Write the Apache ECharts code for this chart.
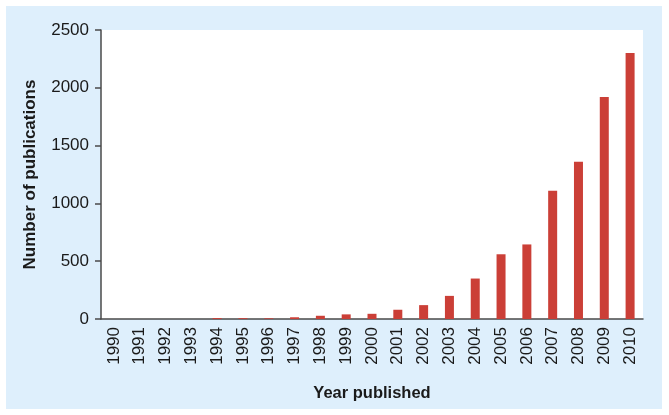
<!DOCTYPE html>
<html>
<head>
<meta charset="utf-8">
<script src="https://cdn.jsdelivr.net/npm/echarts@6/dist/echarts.min.js"></script>
<style>
  html, body { margin: 0; padding: 0; background: #ffffff; }
  #main { position: absolute; left: 6px; top: 6px; width: 656px; height: 403px; }
</style>
</head>
<body>
<div id="main"></div>
<script>
// 年份
const years = ['1990', '1991', '1992', '1993', '1994', '1995', '1996', '1997', '1998', '1999', '2000',
  '2001', '2002', '2003', '2004', '2005', '2006', '2007', '2008', '2009', '2010'];
// 发表数量
const publications = [0, 0, 0, 0, 8, 7, 6, 15, 28, 40, 45,
  80, 120, 200, 350, 560, 645, 1110, 1360, 1920, 2300];
const yTicks = [0, 500, 1000, 1500, 2000, 2500];

let chart = echarts.init(document.getElementById('main'));

const font = 'Liberation Sans, Arial, Helvetica, sans-serif';
const axisColor = '#4a4a4a';

let option = {
  backgroundColor: '#deeffc',
  animation: false,
  grid: {
    left: 95,
    right: 19,
    top: 24,
    bottom: 90,
    show: true,
    backgroundColor: '#ffffff',
    borderWidth: 0
  },
  xAxis: {
    type: 'category',
    data: years,
    name: 'Year published',
    nameLocation: 'middle',
    nameGap: 66,
    nameTextStyle: { fontFamily: font, fontSize: 16.5, fontWeight: 'bold', color: '#1a1a1a' },
    axisLine: { lineStyle: { color: axisColor, width: 1.5 } },
    axisTick: { alignWithLabel: true, length: 7, lineStyle: { color: axisColor, width: 1.5 } },
    axisLabel: { rotate: 90, margin: 8, fontFamily: font, fontSize: 17, color: '#1a1a1a' }
  },
  yAxis: {
    type: 'value',
    min: yTicks[0],
    max: yTicks[yTicks.length - 1],
    interval: 500,
    name: 'Number of publications',
    nameLocation: 'middle',
    nameGap: 62,
    nameTextStyle: { fontFamily: font, fontSize: 17, fontWeight: 'bold', color: '#1a1a1a' },
    splitLine: { show: false },
    axisLine: { show: true, lineStyle: { color: axisColor, width: 1.5 } },
    axisTick: { show: true, length: 6, lineStyle: { color: axisColor, width: 1.5 } },
    axisLabel: {
      margin: 12,
      fontFamily: font,
      fontSize: 17,
      color: '#1a1a1a',
      formatter: v => String(v)
    }
  },
  series: [
    {
      type: 'bar',
      data: publications,
      barWidth: 9,
      itemStyle: { color: '#cb3f37' }
    }
  ]
};
chart.setOption(option);
</script>
</body>
</html>
